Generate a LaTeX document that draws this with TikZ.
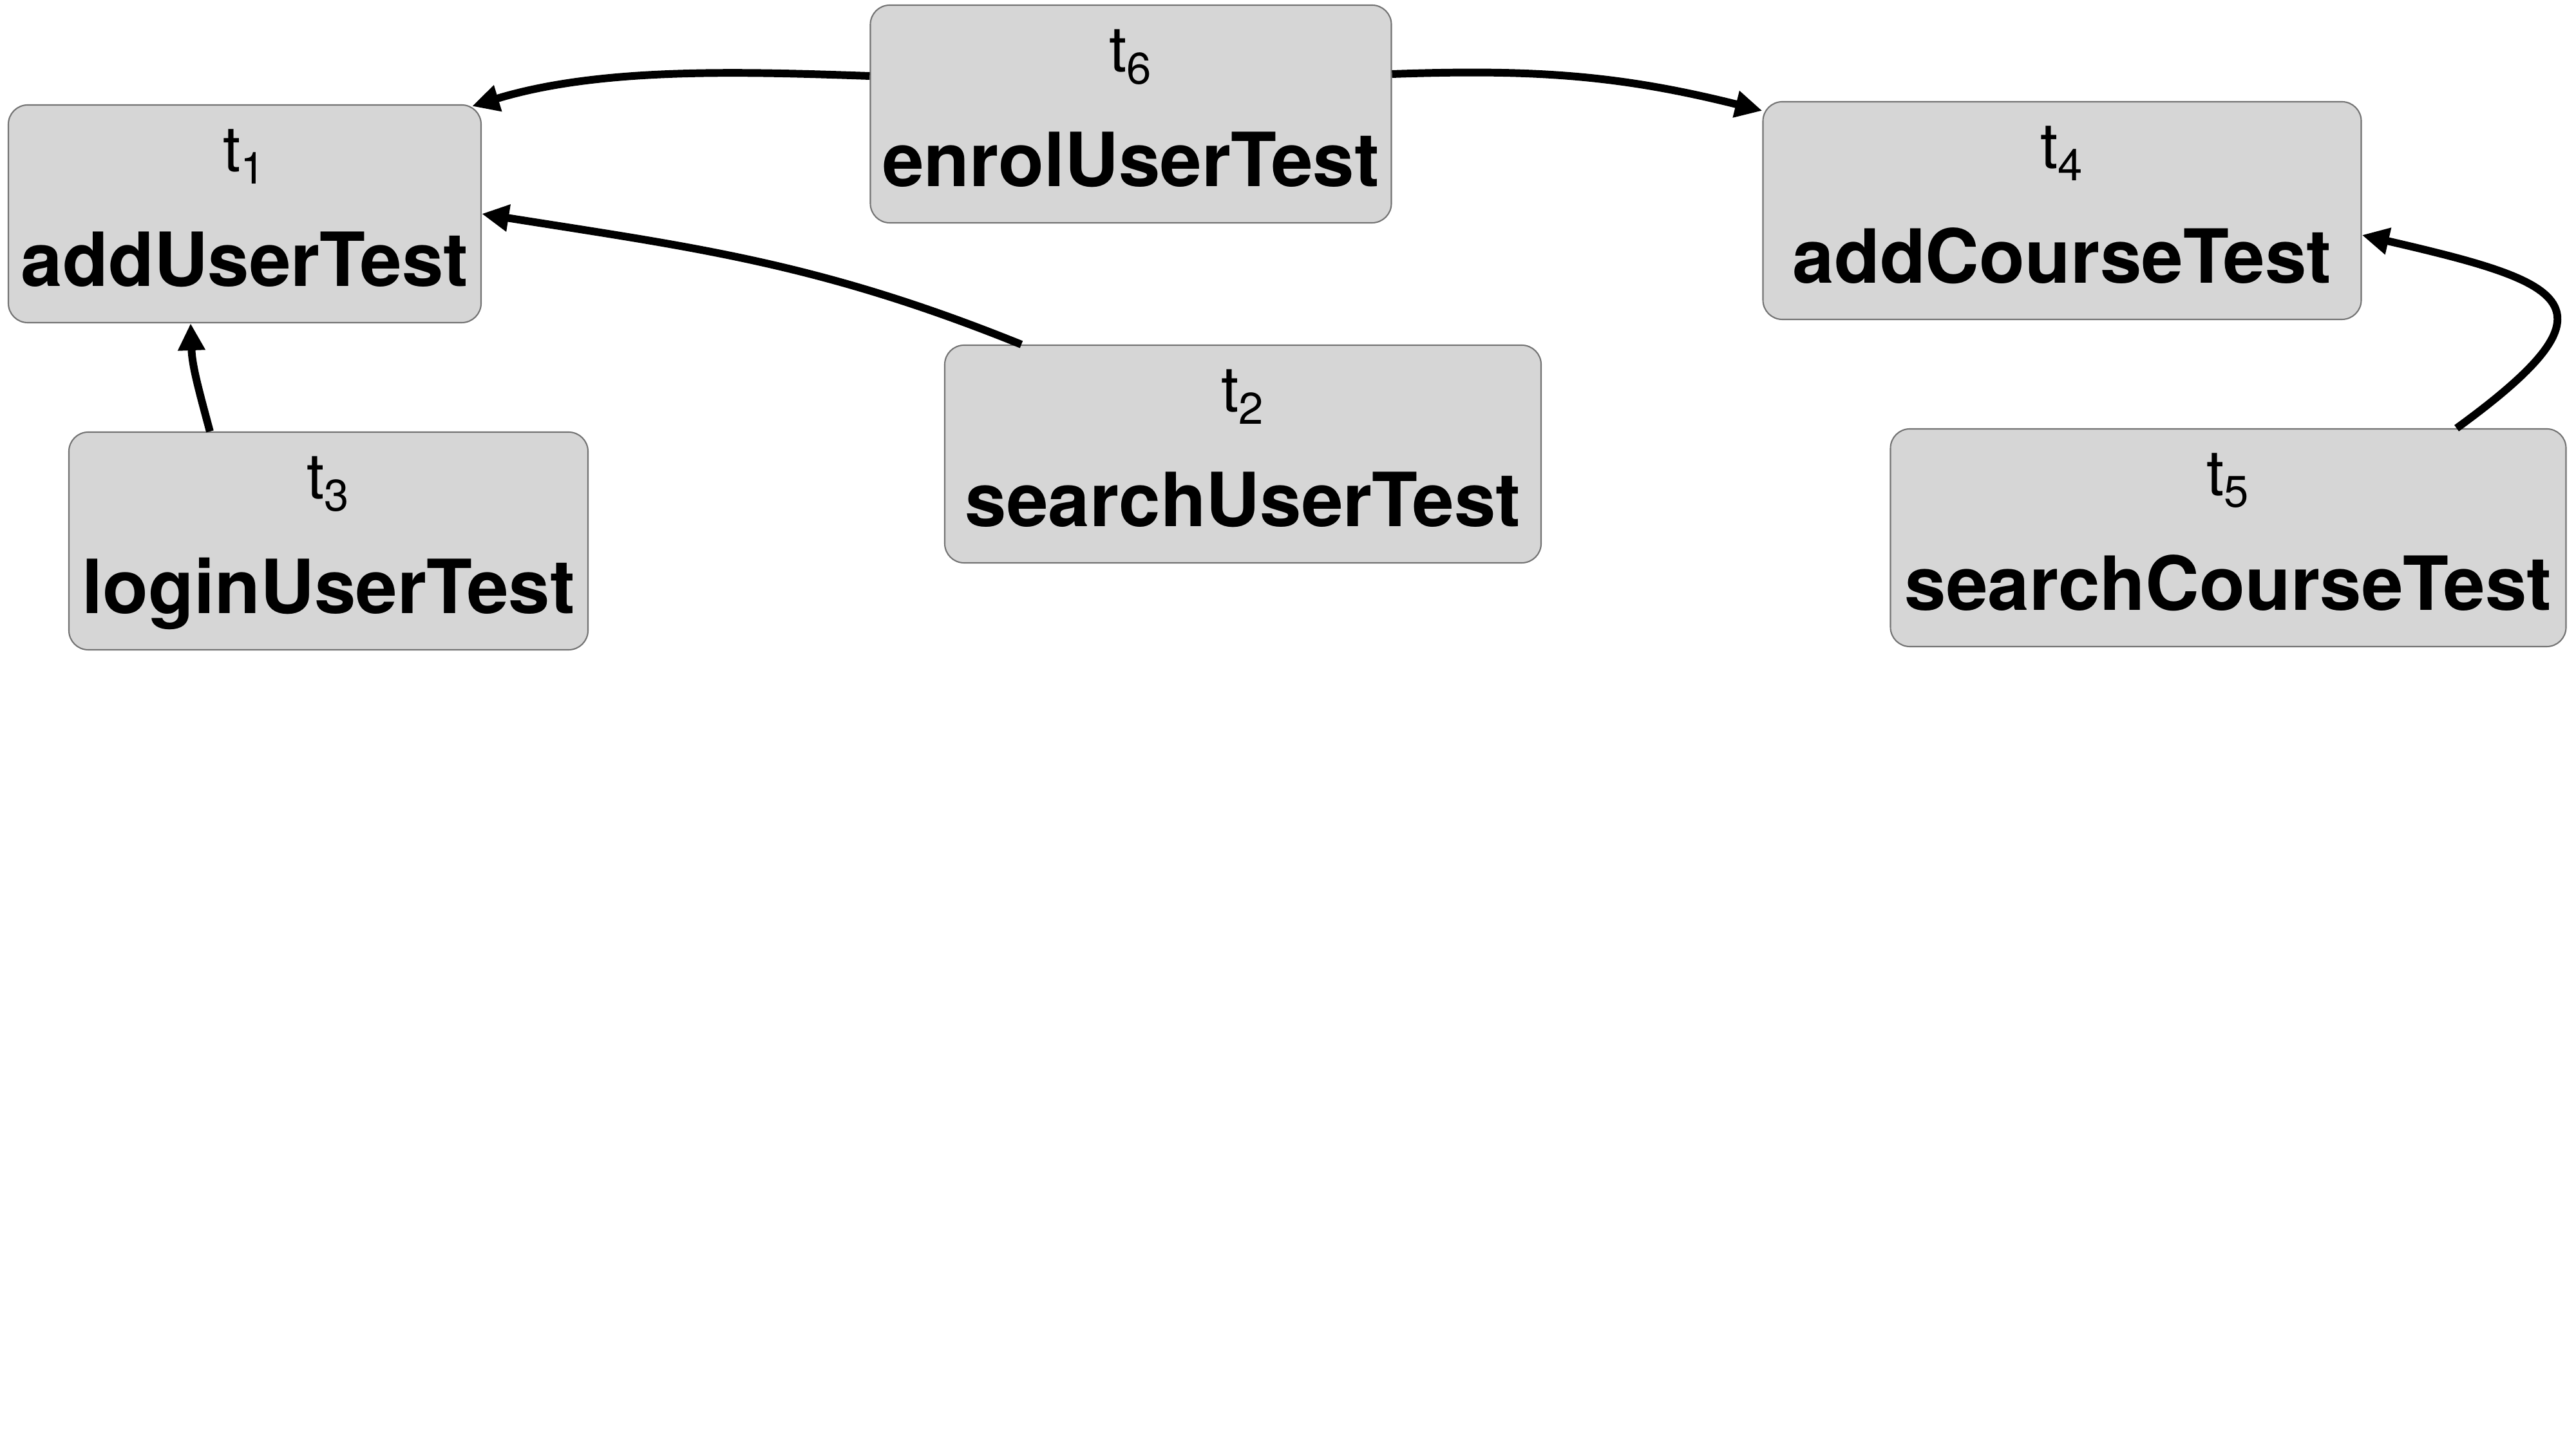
\documentclass[tikz,border=0pt]{standalone}
\usepackage{fontspec}
\setmainfont{TeX Gyre Heros}
\usepackage{tikz}
\usetikzlibrary{calc,arrows.meta}
\definecolor{boxgray}{RGB}{214,214,214}

\begin{document}
\begin{tikzpicture}[>={Triangle[length=4.2mm,width=4mm]},
  testbox/.style={draw=black!55,line width=0.6pt,fill=boxgray,rounded corners=0.3cm,minimum height=3.38cm,inner sep=0pt},
  idtext/.style={anchor=base,inner sep=0pt,font=\fontsize{28}{34}\selectfont},
  nametext/.style={anchor=base,inner sep=0pt,font=\bfseries\fontsize{33}{40}\selectfont},
  conn/.style={->,line width=3.4pt}]
  \useasboundingbox (0,0) rectangle (40,-22.5);
  % test boxes
  \foreach \i/\x/\y/\w/\txt in {1/3.80/-3.32/7.34/addUserTest,
      2/19.30/-7.05/9.26/searchUserTest,
      3/5.10/-8.40/8.06/loginUserTest,
      4/32.02/-3.27/9.29/addCourseTest,
      5/34.60/-8.35/10.49/searchCourseTest,
      6/17.56/-1.77/8.09/enrolUserTest} {
    \node[testbox,minimum width=\w cm] (t\i) at (\x,\y) {};
    \node[idtext] (id\i) at ([yshift=-1.05cm]t\i.north) {t\textsubscript{\i}};
    \node[nametext] (name\i) at ([yshift=0.58cm]t\i.south) {\txt};
  }
  % dependencies
  \draw[conn] ([yshift=0.02cm]t6.172) to[out=178,in=17,looseness=0.85] ([xshift=-0.15cm,yshift=-0.03cm]t1.north east);
  \draw[conn] ([xshift=1.2cm]t2.north west) to[out=158,in=-9] (t1.east);
  \draw[conn] ([xshift=2.2cm]t3.north west) to[out=105,in=-88] ([xshift=-0.84cm]t1.south);
  \draw[conn] ([yshift=0.62cm]t6.east) to[out=2,in=166] ([yshift=-0.15cm]t4.north west);
  \draw[conn] ([xshift=-1.71cm]t5.north east) to[out=36,in=-13,looseness=2.5] ([yshift=-0.38cm]t4.east);
\end{tikzpicture}
\end{document}
